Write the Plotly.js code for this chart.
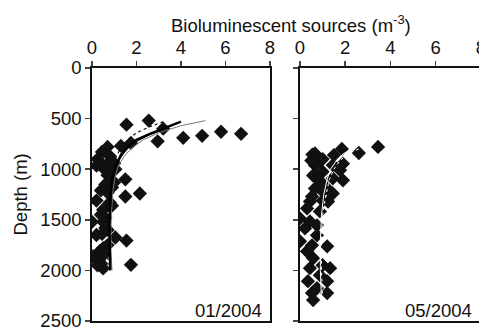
<!DOCTYPE html>
<html>
<head>
<meta charset="utf-8">
<script src="https://cdn.plot.ly/plotly-3.0.1.min.js"></script>
<style>
html,body{margin:0;padding:0;overflow:hidden;background:#fff;}
#chart{width:483px;height:329px;}
</style>
</head>
<body>
<div id="chart"></div>
<script>
// ---- Data ----
const panelLabels = ["01/2004", "05/2004"];
const xTickVals = [0, 2, 4, 6, 8];
const yTickVals = [0, 500, 1000, 1500, 2000, 2500];

// 01/2004 observations: sources (m^-3) and depth (m)
const janSources = [1.55,2.55,3.2,2.95,4.1,4.95,5.8,6.7,1.3,1.75,
  0.7,0.45,0.25,0.8,1.0,0.45,0.2,0.8,0.6,1.05,0.7,1.5,1.0,0.6,0.9,0.4,0.7,1.5,2.15,
  0.2,0.8,0.9,0.5,0.4,0.6,0.0,0.5,0.6,0.7,0.2,0.45,1.05,1.55,0.7,0.5,0.35,0.55,0.05,
  0.3,0.4,0.5,1.75,0.25];
const janDepth = [560,520,600,725,690,670,630,650,770,740,
  780,830,900,870,940,950,965,925,1010,1000,1060,1100,1130,1150,1180,1210,1230,1270,1240,
  1310,1330,1360,1400,1450,1480,1520,1520,1580,1600,1650,1640,1675,1705,1750,1780,1810,1840,1860,
  1900,1930,1980,1945,1950];

// 05/2004 observations
const maySources = [3.45,2.6,1.85,1.5,0.55,0.9,0.5,0.66,1.0,0.66,1.45,1.9,1.0,1.77,0.66,1.45,0.9,1.9,
  1.2,0.66,1.45,0.53,1.0,0.44,0.31,0.88,0.0,0.44,0.22,0.75,0.75,0.0,0.53,1.2,0.31,0.58,1.0,1.33,
  0.44,0.88,0.35,1.2,0.75,1.2,0.53,0.58,0.58,1.24,1.0];
const mayDepth = [780,840,800,860,855,920,915,845,900,960,960,945,1025,1010,1045,1090,1120,1110,
  1190,1190,1240,1270,1310,1320,1388,1417,1486,1516,1585,1555,1653,1713,1752,1762,1811,1880,1949,1978,
  1978,2047,2106,2106,2175,2224,2224,2293,1063,1320,1220];

// Fitted profiles, 01/2004
const janThickX = [4.0,3.3,2.6,2.0,1.6,1.3,1.1,0.95,0.85,0.8,0.78,0.8,0.82];
const janThickY = [530,590,650,710,780,860,950,1050,1200,1400,1600,1800,2000];
const janDashX = [3.2,2.6,2.0,1.6,1.3,1.1,0.95,0.85,0.78,0.72,0.7,0.7,0.72];
const janDashY = [530,580,640,710,790,870,960,1060,1200,1400,1600,1800,1950];
const janGreyX = [5.1,4.0,3.0,2.3,1.8,1.45,1.2,1.05,0.95,0.88,0.85,0.85,0.9];
const janGreyY = [520,570,640,710,790,870,960,1060,1200,1400,1600,1800,2000];
const janThinX = [3.2,2.5,1.9,1.5,1.25,1.05,0.92,0.85,0.8,0.8,0.82];
const janThinY = [610,670,740,820,900,1000,1120,1300,1500,1700,1900];

// Fitted profiles, 05/2004
const mayThickX = [2.3,1.9,1.6,1.35,1.2,1.05,0.95,0.9,0.9,0.95];
const mayThickY = [800,850,920,1000,1100,1250,1450,1700,2000,2300];
const mayDashX = [2.6,2.1,1.75,1.5,1.3,1.15,1.0,0.95,0.95,1.0];
const mayDashY = [800,850,920,1000,1100,1250,1450,1700,2000,2300];

// ---- Traces ----
const mk = {symbol:'diamond', size:11, color:'#111'};
const traces = [
  {x:janSources, y:janDepth, xaxis:'x', yaxis:'y', mode:'markers', marker:mk, type:'scatter'},
  {x:janGreyX, y:janGreyY, xaxis:'x', yaxis:'y', mode:'lines', line:{color:'#777', width:1}},
  {x:janThinX, y:janThinY, xaxis:'x', yaxis:'y', mode:'lines', line:{color:'#222', width:1}},
  {x:janDashX, y:janDashY, xaxis:'x', yaxis:'y', mode:'lines', line:{color:'#111', width:1.2, dash:'dot'}},
  {x:janThickX, y:janThickY, xaxis:'x', yaxis:'y', mode:'lines', line:{color:'#000', width:2.5}},
  {x:maySources, y:mayDepth, xaxis:'x2', yaxis:'y2', mode:'markers', marker:mk, type:'scatter'},
  {x:mayThickX, y:mayThickY, xaxis:'x2', yaxis:'y2', mode:'lines', line:{color:'#fff', width:1}},
  {x:mayDashX, y:mayDashY, xaxis:'x2', yaxis:'y2', mode:'lines', line:{color:'#fff', width:1, dash:'dot'}}
];

const W = 483;
const fnt = {family:'Liberation Sans, Arial, sans-serif', size:18.5, color:'#111'};
const xBase = {range:[0,8.001], side:'top', tickvals:xTickVals, ticks:'outside', ticklen:5, tickwidth:1.5,
  showline:true, linewidth:1.8, linecolor:'#111', mirror:true, showgrid:false, zeroline:false,
  tickfont:fnt, fixedrange:true, ticklabeloverflow:'allow'};
const yBase = {range:[2500.01,0], tickvals:yTickVals, ticks:'outside', ticklen:5, tickwidth:1.5,
  showline:true, linewidth:1.8, linecolor:'#111', mirror:true, showgrid:false, zeroline:false,
  tickfont:fnt, fixedrange:true, ticklabeloverflow:'allow'};

const layout = {
  width:W, height:329, showlegend:false,
  margin:{l:0, r:0, t:68, b:8, pad:0},
  paper_bgcolor:'#fff', plot_bgcolor:'#fff', font:fnt,
  xaxis:Object.assign({}, xBase, {domain:[92/W, 270/W], anchor:'y'}),
  yaxis:Object.assign({}, yBase, {domain:[0,1], anchor:'x'}),
  xaxis2:Object.assign({}, xBase, {domain:[300/W, 481/W], anchor:'y2'}),
  yaxis2:Object.assign({}, yBase, {domain:[0,1], anchor:'x2', showticklabels:false}),
  annotations:[
    {text:'Bioluminescent sources (m<sup>-3</sup>)', xref:'paper', yref:'paper', x:291/W, y:(321-24)/253,
     xanchor:'center', yanchor:'middle', showarrow:false, font:fnt},
    {text:'Depth (m)', xref:'paper', yref:'paper', x:20/W, y:0.5, textangle:-90,
     xanchor:'center', yanchor:'middle', showarrow:false, font:fnt},
    {text:panelLabels[0], xref:'x domain', yref:'y domain', x:0.965, y:(321-310)/253,
     xanchor:'right', yanchor:'middle', showarrow:false, font:fnt},
    {text:panelLabels[1], xref:'x2 domain', yref:'y2 domain', x:0.96, y:(321-310)/253,
     xanchor:'right', yanchor:'middle', showarrow:false, font:fnt}
  ]
};

Plotly.newPlot('chart', traces, layout, {staticPlot:true, displayModeBar:false});
</script>
</body>
</html>
